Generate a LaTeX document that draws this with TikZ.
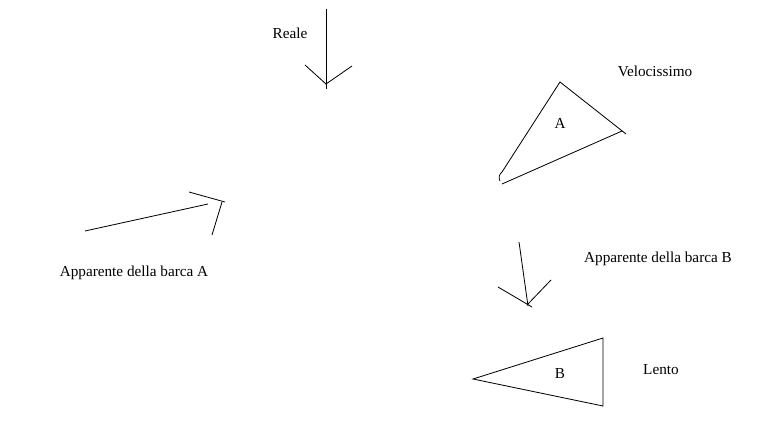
\documentclass[tikz,border=0pt]{standalone}
\usepackage{fontspec}
\setmainfont{Liberation Serif}
\usetikzlibrary{positioning}
\tikzset{
  pen/.style={line width=0.7pt,black},
  caption/.style={font=\fontsize{13}{15}\selectfont,inner sep=0pt}
}

\begin{document}
\begin{tikzpicture}[x=0.03cm,y=-0.03cm]
  \useasboundingbox[fill=white] (0,0) rectangle (764,429);
  % vento reale
  \coordinate (r0) at (326,9);
  \coordinate (r1) at (326,89);
  \coordinate (rl) at (305,65);
  \coordinate (rr) at (352,66);
  \coordinate (rt) at (326,84);
  \draw[pen] (r0) -- (r1);
  \draw[pen] (rl) -- (rt) -- (rr);
  \node[caption] (reale) at (290,33) {Reale};
  % barca A
  \coordinate (a1) at (560,82);
  \coordinate (a2) at (626,134);
  \coordinate (a3) at (502,172);
  \coordinate (a4) at (502,184);
  \draw[pen] (a2) -- (a1) -- (a3) to[bend right=40] (500,181);
  \draw[pen] (a4) -- (622,131);
  \node[caption] (lettA) at (560,123) {A};
  \node[caption] (veloce) at (655,71) {Velocissimo};
  % apparente A
  \coordinate (p0) at (85,231);
  \coordinate (p1) at (208,204);
  \coordinate (pl) at (189,192);
  \coordinate (pt) at (225,202);
  \coordinate (pr) at (212,235);
  \draw[pen] (p0) -- (p1);
  \draw[pen] (pl) -- (pt);
  \draw[pen] (222,202) -- (pr);
  \node[caption] (appA) at (134,273) {Apparente della barca A};
  % apparente B
  \coordinate (q0) at (519,242);
  \coordinate (q1) at (528,306);
  \coordinate (ql) at (498,287);
  \coordinate (qr) at (551,280);
  \draw[pen] (q0) -- (q1);
  \draw[pen] (ql) -- (532,307);
  \draw[pen] (qr) -- (527,305);
  \node[caption] (appB) at (658,259) {Apparente della barca B};
  % barca B
  \coordinate (b1) at (473,379);
  \coordinate (b2) at (603,338);
  \coordinate (b3) at (603,406);
  \draw[pen] (b1) -- (b2) -- (b3) -- cycle;
  \node[caption] (lettB) at (560,374) {B};
  \node[caption] (lento) at (661,370) {Lento};
\end{tikzpicture}
\end{document}
